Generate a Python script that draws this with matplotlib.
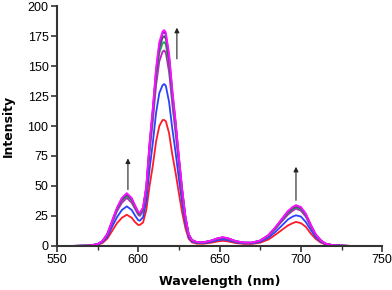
import matplotlib
matplotlib.use("Agg")
import matplotlib.pyplot as plt

wavelength = [550, 560, 570, 575, 578, 581, 584, 587, 590, 593, 596, 598, 600, 601, 603, 605, 607, 609, 611, 613,
              615, 616, 617, 619, 621, 623, 625, 627, 629, 631, 633, 636, 640, 645, 649, 652, 655, 660, 665, 670,
              675, 680, 684, 688, 692, 695, 697, 700, 703, 706, 709, 712, 715, 720, 730, 750]

red = [0, 0, 0.2, 0.9, 2.4, 6, 12.5, 19, 23.5, 26, 23.5, 20, 17.5, 17.5, 19.5, 30, 50, 67, 87, 100,
       105, 105, 104, 94, 76, 61, 44, 28, 15, 6, 3, 1.9, 1.8, 2.7, 3.8, 4.3, 3.8, 2.4, 1.7, 1.7,
       2.7, 5.3, 9, 13, 17, 19, 20, 19, 16, 10.5, 6, 3, 1.2, 0.3, 0, 0]
blue = [0, 0, 0.2, 1.1, 3, 7.5, 16, 24, 30, 33, 30, 25.5, 21.5, 21, 24, 37.5, 64, 86, 111, 127.5,
        134, 135, 133.5, 120, 97.5, 78, 56, 36, 19, 7.5, 3.8, 2.4, 2.3, 3.4, 4.9, 5.4, 4.9, 3, 2.1, 2.1,
        3.4, 6.8, 11.3, 16.5, 22, 24.5, 25.5, 24.5, 20, 13.5, 7.5, 3.8, 1.5, 0.4, 0, 0]
magenta = [0, 0, 0.3, 1.4, 3.6, 9, 19, 29, 36, 40, 36, 31, 26, 25, 29, 45, 78, 104, 134, 154,
           162, 163, 161, 145, 118, 94, 68, 43, 23, 9, 4.5, 2.9, 2.7, 4.1, 5.9, 6.5, 5.9, 3.6, 2.5, 2.5,
           4.1, 8.1, 13.6, 20, 26, 29.4, 31, 29.4, 24.4, 16.3, 9, 4.5, 1.8, 0.5, 0, 0]
green = [0, 0, 0.3, 1.4, 3.8, 9.5, 20, 30, 38, 41.5, 38, 32, 27, 26, 30, 47, 81, 109, 140, 161,
         169, 170, 168, 151, 123, 98, 71, 45, 24, 9.5, 4.7, 3, 2.8, 4.3, 6.1, 6.8, 6.1, 3.8, 2.6, 2.6,
         4.3, 8.5, 14.2, 20.8, 27.4, 30.7, 32, 30.7, 25.5, 17, 9.5, 4.7, 1.9, 0.5, 0, 0]
gray = [0, 0, 0.3, 1.5, 3.9, 9.7, 20.4, 31, 38.8, 42.7, 38.8, 33, 27.6, 26.7, 31, 48.5, 83.4, 111.5, 143.5, 165,
        173.6, 175, 172.7, 155, 126, 101, 72.8, 46.6, 24.3, 9.7, 4.9, 3.1, 2.9, 4.4, 6.3, 7, 6.3, 3.9, 2.7, 2.7,
        4.4, 8.7, 14.6, 21.3, 28.1, 31.5, 33, 31.5, 26.2, 17.5, 9.7, 4.9, 1.9, 0.5, 0, 0]
purple = [0, 0, 0.3, 1.5, 4, 9.9, 20.8, 31.7, 39.6, 43.6, 39.6, 33.7, 28.2, 27.2, 31.7, 49.5, 85, 114, 146.5, 168.3,
          177.2, 178.2, 176.2, 158.4, 128.7, 103, 74.3, 47.5, 24.8, 9.9, 5, 3.2, 3, 4.5, 6.4, 7.1, 6.4, 4, 2.8, 2.8,
          4.5, 8.9, 14.9, 21.8, 28.7, 32.2, 33.7, 32.2, 26.7, 17.8, 9.9, 5, 2, 0.5, 0, 0]
pink = [0, 0, 0.3, 1.5, 4, 10, 21, 32, 40, 44, 40, 34, 28.5, 27.5, 32, 50, 86, 115, 148, 170,
        179, 180, 178, 160, 130, 104, 75, 48, 25, 10, 5, 3.2, 3, 4.5, 6.5, 7.2, 6.5, 4, 2.8, 2.8,
        4.5, 9, 15, 22, 29, 32.5, 34, 32.5, 27, 18, 10, 5, 2, 0.5, 0, 0]

series = [red, blue, magenta, green, gray, purple, pink]
colors = ['#ff1a2a', '#2a40ff', '#c020c0', '#20a060', '#505050', '#6a28d8', '#ff10ff']

# arrows: (wavelength, start intensity, end intensity)
arrows = [(593.7, 47, 73), (623.8, 156, 182), (697, 38, 66)]

fig = plt.figure(figsize=(3.92, 2.90), dpi=100)
ax = fig.add_axes([0.145, 0.152, 0.830, 0.827])

for s, c in zip(series, colors):
    ax.plot(wavelength, s, color=c, lw=1.3)

for x, y0, y1 in arrows:
    ax.annotate('', xy=(x, y1), xytext=(x, y0),
                arrowprops=dict(arrowstyle='-|>', color='#222222', lw=0.8,
                                mutation_scale=7, shrinkA=0, shrinkB=0))

ax.set_xlim(550, 750)
ax.set_ylim(0, 200)
ax.set_xticks([550, 600, 650, 700, 750])
ax.set_xticks([575, 625, 675, 725], minor=True)
ax.set_yticks(range(0, 201, 25))

for sp in ['top', 'right']:
    ax.spines[sp].set_visible(False)
for sp in ['left', 'bottom']:
    ax.spines[sp].set_linewidth(1.5)
    ax.spines[sp].set_color('#333333')

ax.tick_params(axis='both', which='major', direction='out', length=4, width=1.2,
               color='#333333', labelsize=9, pad=2)
ax.tick_params(axis='x', which='minor', direction='out', length=3, width=1.0, color='#333333')
for lab in ax.get_xticklabels() + ax.get_yticklabels():
    lab.set_fontfamily('Liberation Sans')

ax.set_xlabel('Wavelength (nm)', fontsize=9, fontweight='bold', labelpad=6)
ax.set_ylabel('Intensity', fontsize=9, fontweight='bold', labelpad=9)

fig.savefig('out.png', dpi=100)
